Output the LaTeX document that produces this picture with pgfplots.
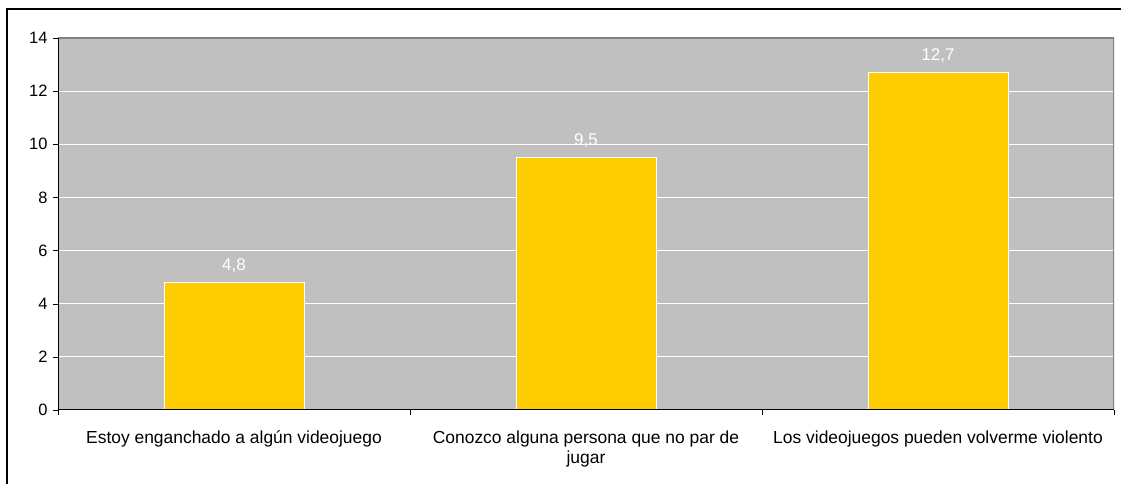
\documentclass[border=0pt]{standalone}
\usepackage{pgfplots}
\pgfplotsset{compat=1.18}
\usepackage{fontspec}
\setmainfont{Liberation Sans}
\definecolor{plotgray}{HTML}{C0C0C0}
\definecolor{baryellow}{HTML}{FFCC00}
\definecolor{bordergray}{HTML}{808080}
\begin{document}
\begin{tikzpicture}[x=1bp,y=1bp]
\useasboundingbox (0,0) rectangle (1121,484);
\draw[black, line width=1.6bp] (7,-5) -- (7,475) -- (1130,475);
\begin{axis}[
  at={(58bp,74bp)}, anchor=south west,
  scale only axis,
  width=1056bp, height=372bp,
  xmin=-0.5, xmax=2.5,
  ymin=0, ymax=14,
  ytick={0,2,...,14},
  xtick={0,1,2},
  xticklabels={{Estoy enganchado a algún videojuego},{Conozco alguna persona que no par de\\jugar},{Los videojuegos pueden volverme violento}},
  xtick style={draw=none},
  extra x ticks={-0.5,0.5,1.5,2.5},
  extra x tick labels={},
  extra x tick style={xtick style={draw=black}, grid=none},
  tick align=outside,
  major tick length=5bp,
  ytick pos=left, xtick pos=bottom,
  ytick style={black},
  ymajorgrids,
  grid style={white, line width=1bp},
  axis line style={draw=none},
  axis background/.style={fill=plotgray},
  /pgf/number format/assume math mode=true,
  yticklabel style={font=\fontsize{16.5}{19}\selectfont, text=black, xshift=-2bp},
  xticklabel style={font=\fontsize{17.5}{20}\selectfont, text=black, align=center, yshift=-12bp},
  ybar,
  bar width=140bp,
  nodes near coords,
  nodes near coords style={font=\fontsize{17}{19}\selectfont, text=white, yshift=6bp,
    /pgf/number format/.cd, fixed, fixed zerofill, precision=1, use comma},
]
\addplot[fill=baryellow, draw=white, line width=1bp] coordinates {(0,4.8) (1,9.5) (2,12.7)};
\draw[bordergray, line width=1.2bp] (rel axis cs:0,1) -- (rel axis cs:1,1) -- (rel axis cs:1,0);
\draw[black, line width=1bp] (rel axis cs:0,1) -- (rel axis cs:0,0) -- (rel axis cs:1,0);
\end{axis}
\end{tikzpicture}
\end{document}
